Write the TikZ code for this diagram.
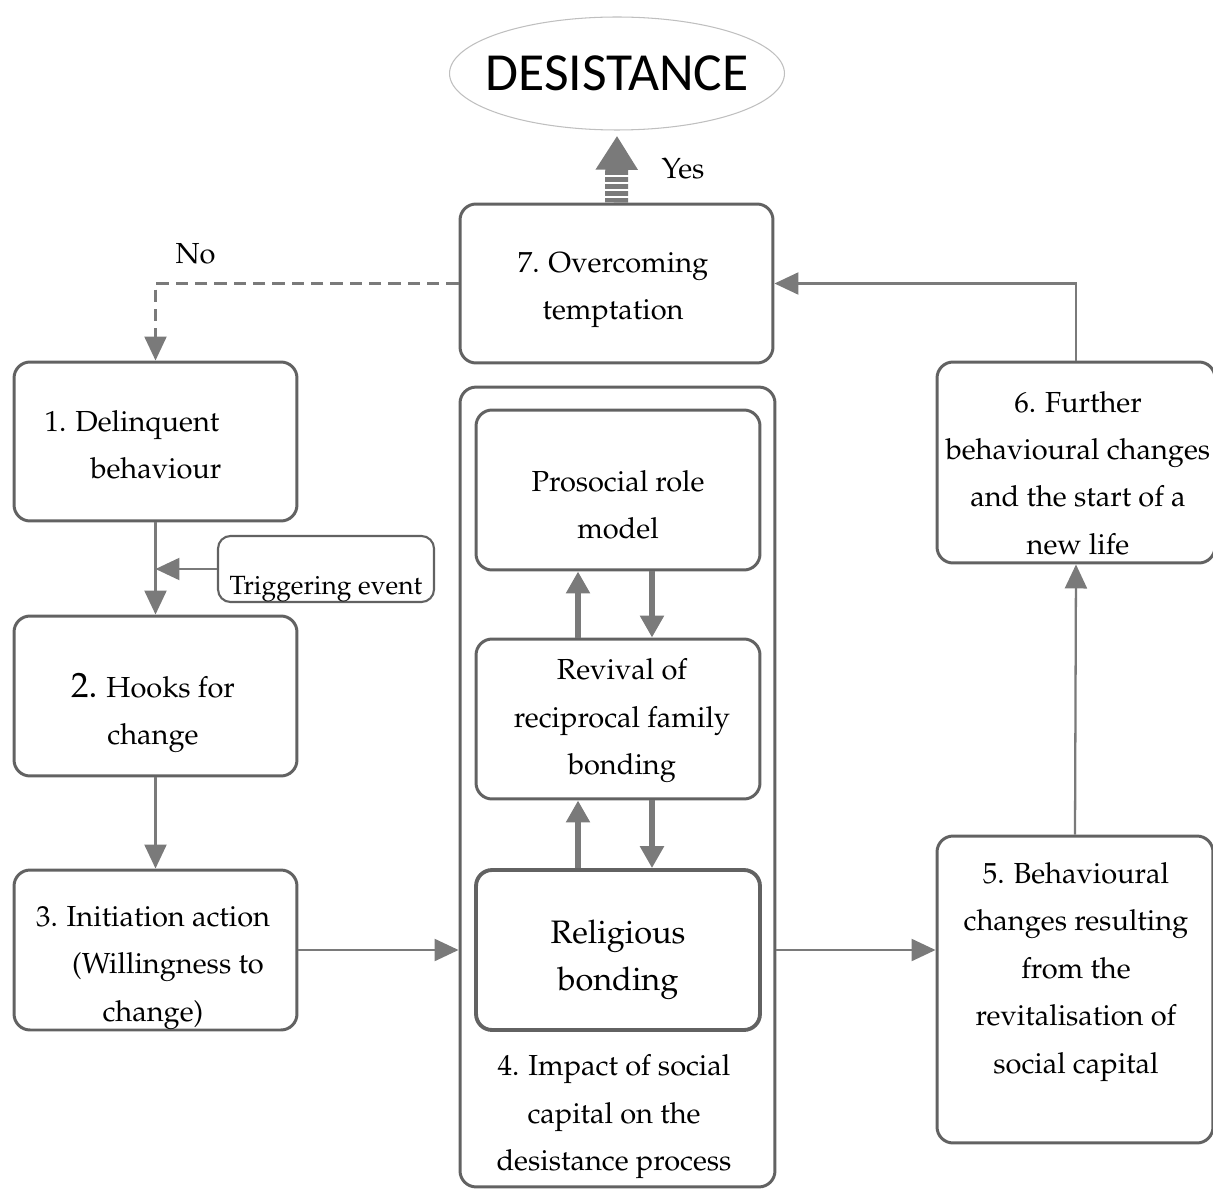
\documentclass[tikz,border=0pt]{standalone}
\usepackage{fontspec}
\newfontfamily\titlefont{Carlito}
\usepackage[T1]{fontenc}
\renewcommand{\rmdefault}{ppl}
\usetikzlibrary{arrows.meta}
\usetikzlibrary{shapes.geometric}

\definecolor{linegray}{RGB}{98,98,98}
\definecolor{arrowgray}{RGB}{122,122,122}

\tikzset{
  box/.style={draw=linegray, line width=1.7pt, rounded corners=0.32cm, inner sep=0pt},
  txt/.style={align=center, inner sep=0pt, font=\fontsize{16.5}{27}\selectfont},
  conn/.style={draw=arrowgray, line width=1.3pt, -{Triangle[length=0.48cm,width=0.44cm]}},
  twoway/.style={draw=arrowgray, line width=3.5pt, -{Triangle[length=0.44cm,width=0.46cm]}},
  goal/.style={ellipse, draw=gray!50, line width=0.6pt, minimum width=6.7cm, minimum height=2.26cm, inner sep=0pt},
}

\begin{document}
\begin{tikzpicture}[x=0.02cm,y=-0.02cm]
\useasboundingbox (0,0) rectangle (1213,1189);

\node[goal] (des) at (617,73.5) {};
\node[inner sep=0pt, font=\titlefont\fontsize{30.5}{30}\selectfont] at (des.center) {DESISTANCE};

% step 7
\node[box, minimum width=6.26cm, minimum height=3.18cm] (b7) at (616.5,283.5) {};
\node[txt] at (613,290) {7. Overcoming\\temptation};

% left column
\node[box, minimum width=5.66cm, minimum height=3.18cm] (b1) at (155.5,441.5) {};
\node[txt] at (132,445) {1. Delinquent\\\hspace*{0.96cm}behaviour};
\node[box, minimum width=5.66cm, minimum height=3.2cm] (b2) at (155.5,696) {};
\node[txt] at (153,713) {{\fontsize{20}{27}\selectfont 2.} Hooks for\\change};
\node[box, minimum width=5.66cm, minimum height=3.2cm] (b3) at (155.5,950) {};
\node[txt] at (153,968) {3. Initiation action\\\hspace*{0.6cm}(Willingness to\\change)};

\node[box, line width=1.2pt, rounded corners=0.25cm, minimum width=4.32cm, minimum height=1.32cm] (trig) at (326,569) {};
\node[txt, font=\fontsize{15}{20}\selectfont] at (326,589) {Triggering event};

% step 4 with inner boxes
\node[box, minimum width=6.3cm, minimum height=16cm] (b4) at (617.5,787) {};
\node[box, minimum width=5.68cm, minimum height=3.2cm] (pro) at (618,490) {};
\node[txt] at (618,505) {Prosocial role\\model};
\node[box, minimum width=5.68cm, minimum height=3.2cm] (rev) at (618,719) {};
\node[txt] at (622,721) {Revival of\\reciprocal family\\bonding};
\node[box, line width=2.2pt, minimum width=5.68cm, minimum height=3.2cm] (rel) at (618,950) {};
\node[txt, font=\fontsize{18.5}{27}\selectfont] at (618,960) {Religious\\bonding};
\node[txt] at (614,1117) {4. Impact of social\\capital on the\\desistance process};

% right column
\node[box, minimum width=5.52cm, minimum height=6.14cm] (b5) at (1075,989.5) {};
\node[txt] at (1076,972) {5. Behavioural\\changes resulting\\from the\\revitalisation of\\social capital};
\node[box, minimum width=5.56cm, minimum height=4.02cm] (b6) at (1076,462.5) {};
\node[txt] at (1078,473) {6. Further\\behavioural changes\\and the start of a\\new life};

% frecce
\draw[conn] (b1.south) -- (b2.north);
\draw[conn] (trig.west) -- (trig.west -| b1.south);
\draw[conn] (b2.south) -- (b3.north);
\draw[conn] (b3.east) -- (b3.east -| b4.west);
\draw[conn] (rel.east -| b4.east) -- (rel.east -| b5.west);
\draw[conn] (b5.north) -- (b6.south);
\draw[conn] (b6.north) |- (b7.east);
\draw[conn, dashed, dash pattern=on 7pt off 4pt] (b7.west) -| (b1.north) node[pos=0.434, above=0.25cm, font=\fontsize{16.5}{20}\selectfont] {No};

\draw[twoway] ([xshift=-0.8cm]rev.north) -- ([xshift=-0.8cm]pro.south);
\draw[twoway] ([xshift=0.68cm]pro.south) -- ([xshift=0.68cm]rev.north);
\draw[twoway] ([xshift=-0.8cm]rel.north) -- ([xshift=-0.8cm]rev.south);
\draw[twoway] ([xshift=0.68cm]rev.south) -- ([xshift=0.68cm]rel.north);

% yes arrow
\draw[arrowgray, line width=0.46cm, -{Triangle[length=0.68cm,width=0.8cm]}] (b7.north) -- ([yshift=-3pt]des.south)
  node[pos=0.5, right=0.55cm, black, font=\fontsize{16.5}{20}\selectfont] {Yes};
\foreach \yy in {176,183,190,197}
  \draw[white, line width=0.9pt] (602,\yy) -- (632,\yy); % stripes

\end{tikzpicture}
\end{document}
